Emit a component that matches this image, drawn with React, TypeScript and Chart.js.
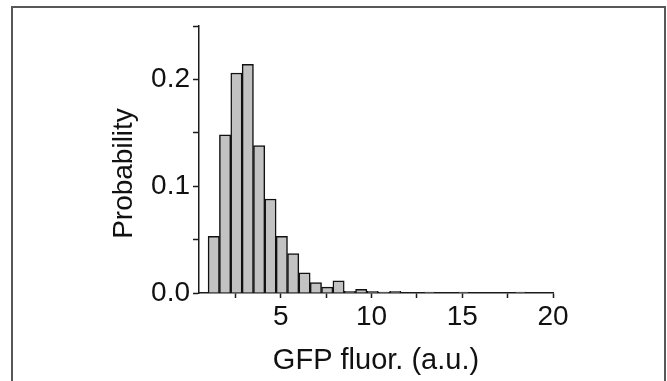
import React, { useEffect, useRef } from "react";
import { Chart, registerables } from "chart.js";

Chart.register(...registerables);

// Histogram bins (bin centres, bin width 0.625 a.u.)
const binCenters = [
  1.3125, 1.9375, 2.5625, 3.1875, 3.8125, 4.4375, 5.0625, 5.6875, 6.3125, 6.9375,
  7.5625, 8.1875, 8.8125, 9.4375, 10.0625, 10.6875, 11.3125, 11.9375, 12.5625, 13.1875,
  13.8125, 14.4375, 15.0625, 15.6875, 16.3125, 16.9375, 17.5625, 18.1875,
];
const probabilities = [
  0.053, 0.148, 0.206, 0.214, 0.138, 0.088, 0.053, 0.037, 0.019, 0.0097,
  0.0055, 0.0115, 0.0016, 0.0034, 0.0016, 0.0008, 0.0016, 0, 0, 0.0008,
  0, 0, 0.0008, 0, 0, 0, 0, 0.0008,
];

const xTickValues = [2.5, 5, 7.5, 10, 12.5, 15, 17.5, 20];
const xTickLabels = ["", "5", "", "10", "", "15", "", "20"];
const yTickValues = [0, 0.05, 0.1, 0.15, 0.2, 0.25];
const yTickLabels = ["0.0", "", "0.1", "", "0.2", ""];

const xTitle = "GFP fluor. (a.u.)";
const yTitle = "Probability";

const FONT_FAMILY = '"Liberation Sans", Arial, Helvetica, sans-serif';
const AXIS_COLOR = "#1a1a1a";

const yTitlePlugin = {
  id: "yTitleDraw",
  afterDraw(chart: any) {
    const { ctx, chartArea } = chart;
    ctx.save();
    ctx.font = `28px ${FONT_FAMILY}`;
    ctx.fillStyle = "#111";
    ctx.translate(chartArea.left - 75, (chartArea.top + chartArea.bottom) / 2 + 14);
    ctx.rotate(-Math.PI / 2);
    ctx.textAlign = "center";
    ctx.textBaseline = "middle";
    ctx.fillText(yTitle, 0, 0);
    ctx.restore();
  },
};

export default function App() {
  const canvasRef = useRef<HTMLCanvasElement | null>(null);

  useEffect(() => {
    const canvas = canvasRef.current;
    if (!canvas) return;
    const chart = new Chart(canvas, {
      type: "bar",
      data: {
        datasets: [
          {
            data: binCenters.map((x, i) => ({ x, y: probabilities[i] })),
            backgroundColor: "#c2c2c2",
            borderColor: "#111111",
            borderWidth: 1.5,
            categoryPercentage: 1,
            barPercentage: 1,
          },
        ],
      },
      options: {
        animation: false,
        responsive: false,
        maintainAspectRatio: false,
        layout: { padding: { left: 0, top: 26, right: 114, bottom: 0 } },
        plugins: {
          legend: { display: false },
          tooltip: { enabled: false },
        },
        scales: {
          x: {
            type: "linear",
            min: 0.5,
            max: 20,
            offset: false,
            afterBuildTicks: (scale: any) => {
              scale.ticks = xTickValues.map((v) => ({ value: v }));
            },
            afterFit: (scale: any) => {
              scale.height = 88;
            },
            ticks: {
              autoSkip: false,
              maxRotation: 0,
              padding: 2,
              color: "#111",
              font: { family: FONT_FAMILY, size: 28 },
              callback: (_v: any, i: number) => xTickLabels[i],
            },
            grid: {
              offset: false,
              drawOnChartArea: false,
              drawTicks: true,
              tickLength: 5,
              tickColor: AXIS_COLOR,
              tickWidth: 1.5,
            },
            border: { display: true, color: AXIS_COLOR, width: 1.5 },
            title: {
              display: true,
              text: xTitle,
              color: "#111",
              font: { family: FONT_FAMILY, size: 29 },
              padding: { top: 4, bottom: 3 },
            },
          },
          y: {
            type: "linear",
            min: 0,
            max: 0.25,
            afterBuildTicks: (scale: any) => {
              scale.ticks = yTickValues.map((v) => ({ value: v }));
            },
            afterFit: (scale: any) => {
              scale.width = 199;
            },
            ticks: {
              autoSkip: false,
              padding: 3,
              color: "#111",
              font: { family: FONT_FAMILY, size: 28 },
              callback: (_v: any, i: number) => yTickLabels[i],
            },
            grid: {
              drawOnChartArea: false,
              drawTicks: true,
              tickLength: 6,
              tickColor: AXIS_COLOR,
              tickWidth: 1.5,
            },
            border: { display: true, color: AXIS_COLOR, width: 1.5 },
            title: { display: false },
          },
        },
      },
      plugins: [yTitlePlugin],
    } as any);
    return () => chart.destroy();
  }, []);

  return (
    <div
      style={{
        position: "fixed",
        left: 0,
        top: 0,
        width: 667,
        height: 381,
        background: "#ffffff",
        overflow: "hidden",
      }}
    >
      <div
        style={{
          position: "absolute",
          left: 11,
          top: 6,
          width: 651,
          height: 420,
          border: "2px solid #585858",
        }}
      />
      <canvas
        ref={canvasRef}
        width={667}
        height={381}
        style={{ position: "absolute", left: 0, top: 0, width: 667, height: 381 }}
      />
    </div>
  );
}
